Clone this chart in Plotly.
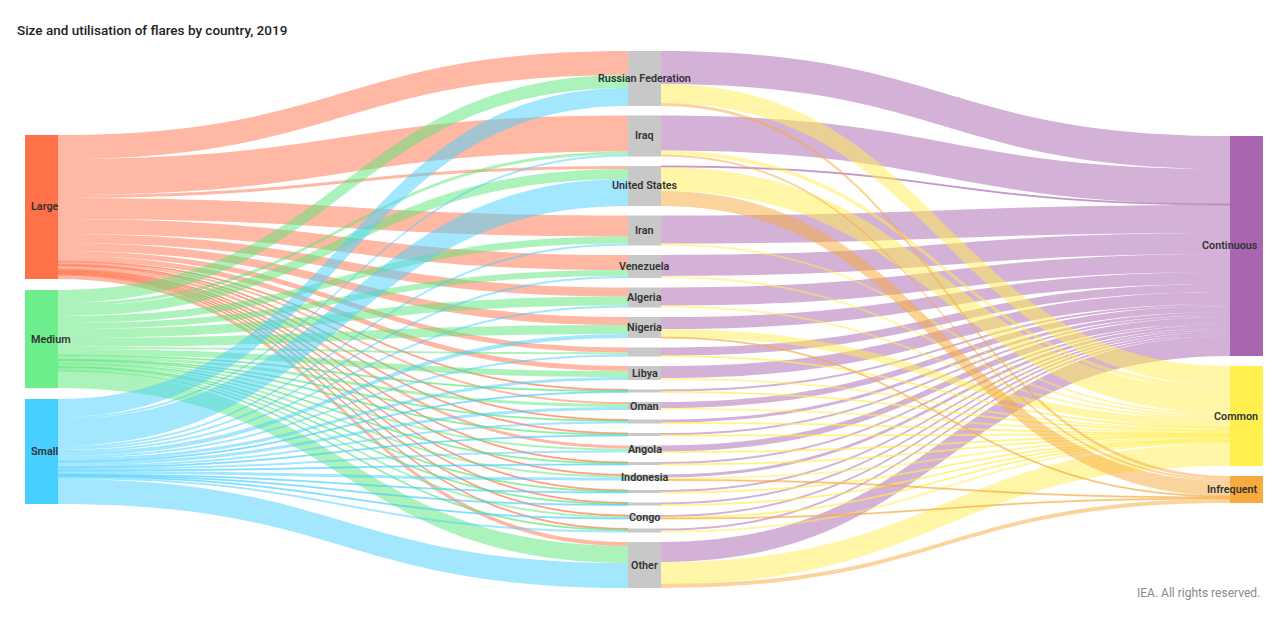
import plotly.graph_objects as go

# ---------------- data ----------------
sizes = ["Large", "Medium", "Small"]
utilisation = ["Continuous", "Common", "Infrequent"]
countries = ["Russian Federation", "Iraq", "United States", "Iran", "Venezuela",
             "Algeria", "Nigeria", "", "Libya", "", "Oman", "", "", "Angola", "",
             "Indonesia", "", "", "Congo", "", "Other"]

# flows from flare size class to each country
large = [24, 36, 3, 21, 15, 9, 8, 5, 5, 1, 2, 1, 1, 3, 1, 1, 1, 1, 1, 1, 4]
medium = [13, 3, 10, 7, 6, 9, 9, 2, 6, 1, 3, 1, 1, 2, 1, 2, 1, 1, 2, 1, 17]
small = [18, 2, 27, 2, 2, 2, 4, 2, 3, 1, 3, 2, 1, 2, 1, 3, 1, 1, 1, 2, 25]
# flows from each country to utilisation class
continuous = [33, 35, 1, 28, 21, 18, 12, 8, 12, 2, 6, 3, 2, 6, 2, 3, 2, 2, 2, 2, 20]
common = [19, 4, 24, 2, 2, 2, 8, 1, 2, 1, 2, 1, 1, 1, 1, 2, 1, 1, 1, 2, 22]
infrequent = [3, 2, 15, 0, 0, 0, 1, 0, 0, 0, 0, 0, 0, 0, 0, 1, 0, 0, 1, 0, 4]

# ---------------- style / layout (screen px; page body adds an 8px offset) ----------------
OFF = 8
W, H = 1280 - OFF, 617 - OFF
TOP, BOT = 51, 588          # vertical extent of the sankey (screen px)
PAD = 9.5                   # gap in the country column
GAP_L, GAP_R = 11, 10       # gaps in the side columns
THICK = 33
X_LEFT, X_MID, X_RIGHT = 41.5, 644.5, 1246.5   # node centre x (screen px)

size_node_col = ["#FF7148", "#6CEE8C", "#47CFFF"]
size_link_col = ["rgba(255,113,72,0.5)", "rgba(90,230,120,0.5)", "rgba(71,207,255,0.5)"]
util_node_col = ["#A965B0", "#FFF050", "#F8AA3C"]
util_link_col = ["rgba(170,100,176,0.5)", "rgba(255,240,80,0.5)", "rgba(248,170,60,0.5)"]
mid_col = "#C8C8C8"
FONT = "Roboto"


def px_x(x):
    return (x - OFF) / W


def px_y(y):
    return 1 - (y - OFF) / H


# ---------------- build nodes & links ----------------
nL, nM, nR = len(sizes), len(countries), len(utilisation)
labels = sizes + countries + utilisation
node_colors = size_node_col + [mid_col] * nM + util_node_col

src, tgt, val, lcol = [], [], [], []
for si, series in enumerate([large, medium, small]):
    for ci, v in enumerate(series):
        if v > 0:
            src.append(si); tgt.append(nL + ci); val.append(v); lcol.append(size_link_col[si])
for ui, series in enumerate([continuous, common, infrequent]):
    for ci, v in enumerate(series):
        if v > 0:
            src.append(nL + ci); tgt.append(nL + nM + ui); val.append(v); lcol.append(util_link_col[ui])

left_vals = [sum(large), sum(medium), sum(small)]
mid_vals = [max(large[i] + medium[i] + small[i], continuous[i] + common[i] + infrequent[i])
            for i in range(nM)]
right_vals = [sum(continuous), sum(common), sum(infrequent)]
dom_h = BOT - TOP
ky = min((dom_h - (len(c) - 1) * PAD) / sum(c) for c in (left_vals, mid_vals, right_vals))


def stack(vals, gap):
    hs = [v * ky for v in vals]
    block = sum(hs) + gap * (len(vals) - 1)
    y = (dom_h - block) / 2
    out = []
    for h in hs:
        out.append(y + h / 2)
        y += h + gap
    return out


yc = stack(left_vals, GAP_L) + stack(mid_vals, PAD) + stack(right_vals, GAP_R)
xc = [X_LEFT] * nL + [X_MID] * nM + [X_RIGHT] * nR
node_x = [(x - OFF) / W for x in xc]
node_y = [y / dom_h for y in yc]

fig = go.Figure(go.Sankey(
    arrangement="fixed",
    domain=dict(x=[0, 1], y=[px_y(BOT), px_y(TOP)]),
    node=dict(label=[""] * len(labels), color=node_colors, pad=PAD, thickness=THICK,
              line=dict(width=0), x=node_x, y=node_y,
              customdata=labels, hovertemplate="%{customdata}<extra></extra>"),
    link=dict(source=src, target=tgt, value=val, color=lcol,
              hovertemplate="%{value}<extra></extra>"),
))

# node labels
ann = []
lab_font = dict(family=FONT, size=10.8, color="#333333", weight=600)
for i, lab in enumerate(labels):
    if not lab:
        continue
    py = px_y(TOP + yc[i])
    if i < nL:
        ann.append(dict(x=px_x(X_LEFT - THICK / 2 + 4), y=py, text=lab, xanchor="left", yanchor="middle",
                        showarrow=False, xref="paper", yref="paper", font=lab_font))
    elif i < nL + nM:
        ann.append(dict(x=px_x(X_MID), y=py, text=lab, xanchor="center", yanchor="middle",
                        showarrow=False, xref="paper", yref="paper", font=lab_font))
    else:
        ann.append(dict(x=px_x(X_RIGHT + THICK / 2 - 3), y=py, text=lab, xanchor="right", yanchor="middle",
                        showarrow=False, xref="paper", yref="paper", font=lab_font))

ann.append(dict(x=px_x(15), y=px_y(30), xref="paper", yref="paper", xanchor="left", yanchor="middle",
                text="Size and utilisation of flares by country, 2019", showarrow=False,
                font=dict(family=FONT, size=13.5, color="#222222", weight=500)))
ann.append(dict(x=px_x(1262), y=px_y(593), xref="paper", yref="paper", xanchor="right", yanchor="middle",
                text="IEA. All rights reserved.", showarrow=False,
                font=dict(family=FONT, size=12, color="#8a8a8a")))

fig.update_layout(
    width=W, height=H, margin=dict(l=0, r=0, t=0, b=0),
    paper_bgcolor="white", plot_bgcolor="white",
    annotations=ann,
)

fig.write_html("out.html")
